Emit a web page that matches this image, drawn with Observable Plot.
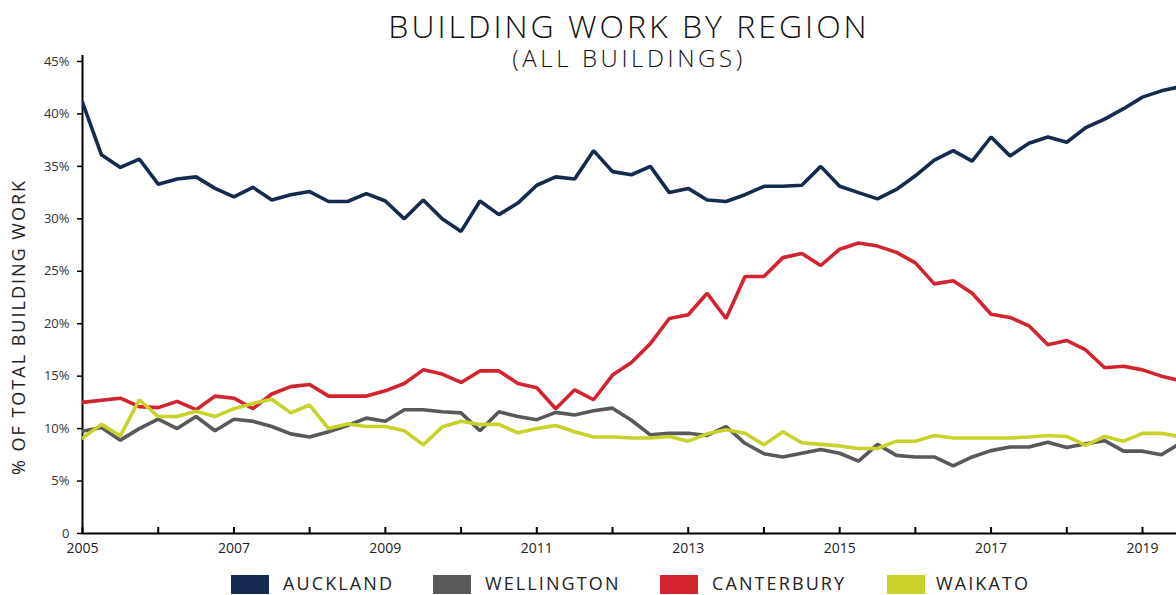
<!DOCTYPE html>
<html><head><meta charset="utf-8">
<script src="https://cdn.jsdelivr.net/npm/d3@7"></script>
<script src="https://cdn.jsdelivr.net/npm/@observablehq/plot@0.6"></script>
<style>
body{margin:0;background:#fff;font-family:"Open Sans",sans-serif;}
#wrap{position:relative;width:1176px;height:595px;overflow:hidden;background:#fff;}
#chart{position:absolute;left:0;top:0;}
.title{position:absolute;left:82px;right:0;text-align:center;color:#111;font-weight:300;white-space:nowrap;}
#t1{top:12px;font-size:32px;line-height:28px;letter-spacing:3px;}
#t2{top:48px;font-size:24px;line-height:20px;letter-spacing:3.6px;}
#ylab{position:absolute;left:-182px;top:315px;width:400px;text-align:center;font-size:18px;line-height:24px;color:#222;transform:rotate(-90deg);white-space:nowrap;letter-spacing:2px;}
.sw{position:absolute;top:575px;width:38px;height:19px;}
.lt{position:absolute;top:574px;font-size:18px;line-height:18px;color:#222;white-space:nowrap;letter-spacing:2.1px;}
</style></head><body>
<div id="wrap">
<div id="chart"></div>
<div class="title" id="t1">BUILDING WORK BY REGION</div>
<div class="title" id="t2">(ALL BUILDINGS)</div>
<div id="ylab">% OF TOTAL BUILDING WORK</div>
<div id="legend"></div>
</div>
<script>
const regions = ["AUCKLAND", "WELLINGTON", "CANTERBURY", "WAIKATO"];
const colors = ["#142a4e", "#58595b", "#d2232e", "#c8d22b"];
const startYear = 2005; // first quarter of the series
const yTicks = [0, 5, 10, 15, 20, 25, 30, 35, 40, 45];
const xTickYears = [2005, 2006, 2007, 2008, 2009, 2010, 2011, 2012, 2013, 2014, 2015, 2016, 2017, 2018, 2019];
const xLabelYears = [2005, 2007, 2009, 2011, 2013, 2015, 2017, 2019];

const auckland = [41.1, 36.1, 34.9, 35.7, 33.3, 33.8, 34.0, 32.9, 32.1, 33.0,
  31.8, 32.3, 32.6, 31.65, 31.65, 32.4, 31.7, 30.0, 31.8, 30.0,
  28.8, 31.7, 30.4, 31.5, 33.2, 34.0, 33.8, 36.5, 34.5, 34.2,
  35.0, 32.5, 32.9, 31.8, 31.65, 32.3, 33.1, 33.1, 33.2, 35.0,
  33.1, 32.5, 31.9, 32.8, 34.1, 35.6, 36.5, 35.5, 37.8, 36.0,
  37.2, 37.8, 37.3, 38.7, 39.5, 40.5, 41.6, 42.2, 42.6];
const wellington = [9.75, 10.1, 8.9, 10.0, 10.9, 10.0, 11.15, 9.8, 10.9, 10.7,
  10.2, 9.5, 9.2, 9.7, 10.3, 11.0, 10.7, 11.8, 11.8, 11.6,
  11.5, 9.8, 11.6, 11.15, 10.85, 11.55, 11.3, 11.7, 11.95, 10.8,
  9.4, 9.55, 9.55, 9.35, 10.2, 8.6, 7.6, 7.3, 7.65, 8.0,
  7.65, 6.9, 8.5, 7.45, 7.3, 7.3, 6.45, 7.3, 7.9, 8.25,
  8.25, 8.7, 8.2, 8.55, 8.85, 7.85, 7.85, 7.5, 8.6];
const canterbury = [12.5, 12.7, 12.9, 12.1, 12.0, 12.6, 11.8, 13.1, 12.9, 11.9,
  13.3, 14.0, 14.2, 13.1, 13.1, 13.1, 13.6, 14.3, 15.6, 15.2,
  14.4, 15.5, 15.5, 14.3, 13.9, 11.9, 13.7, 12.75, 15.1, 16.3,
  18.1, 20.5, 20.85, 22.9, 20.5, 24.5, 24.5, 26.3, 26.7, 25.55,
  27.1, 27.7, 27.4, 26.8, 25.8, 23.8, 24.1, 22.9, 20.9, 20.6,
  19.8, 18.0, 18.4, 17.5, 15.8, 15.95, 15.6, 15.0, 14.57];
const waikato = [9.1, 10.4, 9.3, 12.75, 11.15, 11.15, 11.65, 11.15, 11.9, 12.4,
  12.8, 11.5, 12.25, 10.0, 10.45, 10.2, 10.2, 9.8, 8.45, 10.15,
  10.7, 10.4, 10.4, 9.6, 10.0, 10.3, 9.7, 9.2, 9.2, 9.1,
  9.1, 9.25, 8.8, 9.5, 9.9, 9.55, 8.45, 9.7, 8.65, 8.5,
  8.35, 8.1, 8.1, 8.8, 8.8, 9.35, 9.1, 9.1, 9.1, 9.1,
  9.2, 9.35, 9.25, 8.4, 9.25, 8.8, 9.55, 9.55, 9.23];

const series = [auckland, wellington, canterbury, waikato];
const data = regions.flatMap((r, k) => series[k].map((v, i) => ({region: r, t: startYear + i / 4, v})));

const chart = Plot.plot({
  width: 1176,
  height: 563,
  marginLeft: 82,
  marginRight: 0,
  marginTop: 55,
  marginBottom: 30,
  style: {fontFamily: "'Open Sans', sans-serif", fontSize: "13px", color: "#333", background: "transparent", overflow: "visible"},
  x: {domain: [2005, 2019.449]},
  y: {domain: [0, 45.57]},
  color: {domain: regions, range: colors},
  marks: [
    Plot.ruleX([2005], {stroke: "#000", strokeWidth: 2}),
    Plot.ruleY([0], {stroke: "#000", strokeWidth: 2}),
    Plot.line(data, {x: "t", y: "v", z: "region", stroke: "region", strokeWidth: 3.6, strokeLinejoin: "miter", clip: true}),
    Plot.axisY({ticks: yTicks, tickSize: 5, tickPadding: 8, stroke: "#000", strokeWidth: 1.5, fill: "#333", tickFormat: d => d === 0 ? "0" : d + "%", label: null}),
    Plot.axisX({ticks: xTickYears, tickSize: 6, dy: -6, stroke: "#000", strokeWidth: 2, tickFormat: () => "", label: null}),
    Plot.axisX({ticks: xLabelYears, tickSize: 0, tickPadding: 10, fill: "#222", fontSize: 14, tickFormat: d => String(d), label: null})
  ]
});
document.getElementById("chart").appendChild(chart);

const swatchX = [231, 433, 660, 887];
const textX = [283, 485, 712, 936];
const legend = document.getElementById("legend");
regions.forEach((r, k) => {
  const s = document.createElement("div");
  s.className = "sw"; s.style.left = swatchX[k] + "px"; s.style.background = colors[k];
  const t = document.createElement("div");
  t.className = "lt"; t.style.left = textX[k] + "px"; t.textContent = r;
  legend.appendChild(s); legend.appendChild(t);
});
</script>
</body></html>
